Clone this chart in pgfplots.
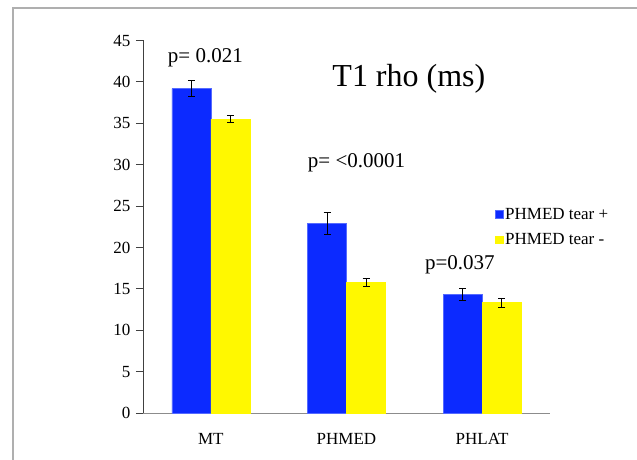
\documentclass[border=0pt]{standalone}
\usepackage{pgfplots}
\pgfplotsset{compat=1.18}
\usepackage{fontspec}
\setmainfont{Liberation Serif}
\definecolor{barblue}{RGB}{12,42,255}
\definecolor{baryellow}{RGB}{255,248,0}
\definecolor{framegray}{RGB}{175,175,175}
\begin{document}
\begin{tikzpicture}
\useasboundingbox (0,0) rectangle (637pt,460pt);
\begin{axis}[
  at={(143pt,47pt)}, anchor=south west,
  scale only axis, width=407pt, height=372.5pt,
  xmin=-0.5, xmax=2.5, ymin=0, ymax=45,
  ybar=0pt, bar width=39pt,
  axis x line*=bottom, axis y line*=left,
  x axis line style={black!45, line width=0.9pt, -},
  y axis line style={black!75, line width=0.9pt, -},
  xtick={0,1,2}, xticklabels={MT,PHMED,PHLAT},
  xtick style={draw=none},
  extra x ticks={-0.5,0.5,1.5,2.5}, extra x tick labels={},
  extra x tick style={tick style={draw=black!45, line width=0.9pt}, major tick length=7pt},
  ytick={0,5,...,45},
  ytick style={black!75, line width=0.9pt},
  tick align=outside, major tick length=7pt,
  /pgf/number format/assume math mode=true,
  ticklabel style={font=\fontsize{17}{20}\selectfont},
  xticklabel style={yshift=-10pt},
  yticklabel style={xshift=-2pt},
  legend style={draw=none, fill=none, at={(0.865,0.555)}, anchor=north west,
    font=\fontsize{17}{20}\selectfont, row sep=10pt, inner sep=0pt,
    nodes={inner sep=1.5pt}},
  legend cell align=left,
  legend image code/.code={\fill[#1] (0pt,-3.5pt) rectangle (8pt,4pt);},
  error bars/error bar style={black, line width=0.8pt},
  error bars/error mark options={rotate=90, mark size=3.5pt, black, line width=0.8pt},
  clip=false,
]
\addplot[fill=barblue, draw=barblue!70!white, line width=0.4pt,
  error bars/.cd, y dir=both, y explicit]
  coordinates {(0,39.2) +- (0,0.95) (1,22.9) +- (0,1.3) (2,14.3) +- (0,0.7)};
\addplot[fill=baryellow, draw=baryellow, line width=0.4pt,
  error bars/.cd, y dir=both, y explicit]
  coordinates {(0,35.5) +- (0,0.45) (1,15.8) +- (0,0.5) (2,13.35) +- (0,0.55)};
\legend{PHMED tear +, PHMED tear -}
\node[anchor=base, font=\fontsize{21}{24}\selectfont] at (axis cs:-0.04,42.3) {p= 0.021};
\node[anchor=base, font=\fontsize{21}{24}\selectfont] at (axis cs:1.074,29.7) {p= <0.0001};
\node[anchor=base, font=\fontsize{21}{24}\selectfont] at (axis cs:1.836,17.3) {p=0.037};
\node[anchor=base, font=\fontsize{32}{36}\selectfont] at (axis cs:1.46,39.4) {T1 rho (ms)};
\end{axis}
\draw[framegray, line width=1.5pt] (13pt,0pt) -- (13pt,452pt) -- (637pt,452pt);
\end{tikzpicture}
\end{document}
